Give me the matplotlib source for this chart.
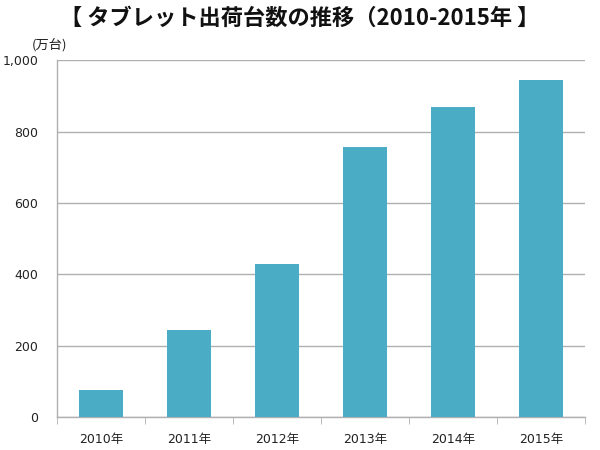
import matplotlib
matplotlib.use("Agg")
import matplotlib.pyplot as plt
import numpy as np

plt.rcParams['font.family'] = ['DejaVu Sans', 'Noto Sans CJK JP']

years = ["2010年", "2011年", "2012年", "2013年", "2014年", "2015年"]
values = [76, 245, 430, 756, 870, 944]
yticks = [0, 200, 400, 600, 800, 1000]
ytick_labels = ["0", "200", "400", "600", "800", "1,000"]
title = "【 タブレット出荷台数の推移（2010-2015年 】"
unit = "(万台)"

bar_color = "#4BACC6"
grid_color = "#B0B0B0"

fig = plt.figure(figsize=(6, 4.5), dpi=100)
ax = fig.add_axes([0.095, 0.0727, 0.88, 0.7933])

x = np.arange(len(years))
ax.bar(x, values, width=0.5, color=bar_color, zorder=3)

ax.set_xlim(-0.5, len(years) - 0.5)
ax.set_ylim(0, 1000)
ax.set_yticks(yticks)
ax.set_yticklabels(ytick_labels, fontsize=9, color="#222222")
ax.yaxis.grid(True, color=grid_color, linewidth=1, zorder=0)
ax.tick_params(axis='y', length=0, pad=13.5)

ax.set_xticks(x)
ax.set_xticklabels(years, fontsize=9, color="#222222")
ax.tick_params(axis='x', which='major', length=0, pad=11)
ax.set_xticks(np.arange(-0.5, len(years), 1.0), minor=True)
ax.tick_params(axis='x', which='minor', length=5, color=grid_color, direction='out')

for s in ['top', 'right']:
    ax.spines[s].set_visible(False)
for s in ['left', 'bottom']:
    ax.spines[s].set_color(grid_color)
    ax.spines[s].set_linewidth(1)

fig.text(0.5, 0.96, title, ha='center', va='center', fontsize=16,
         fontweight='bold', family=['Noto Sans CJK JP', 'DejaVu Sans'], color="#111111")
fig.text(0.053, 0.9, unit, ha='left', va='center', fontsize=9.5,
         family=['Noto Sans CJK JP', 'DejaVu Sans'], color="#222222")

fig.savefig("out.png", dpi=100)
